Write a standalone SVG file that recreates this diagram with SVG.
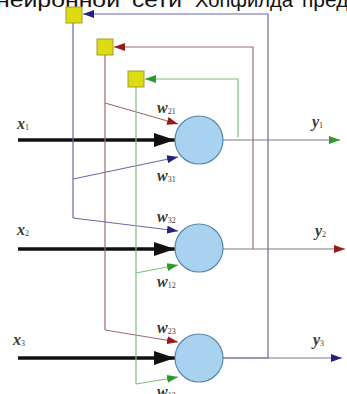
<svg xmlns="http://www.w3.org/2000/svg" width="347" height="394" viewBox="0 0 347 394">
<style>
.bl{stroke:#6a6aa6;stroke-width:1.2;fill:none}
.rd{stroke:#a06a6a;stroke-width:1.2;fill:none}
.gr{stroke:#7cbf7c;stroke-width:1.2;fill:none}
.out{stroke:#7a7a8a;stroke-width:1.2;fill:none}
.inp{stroke:#111;stroke-width:3.5;fill:none}
.sq{fill:#dcdc10;stroke:#a0a030;stroke-width:1}
.neu{fill:#a8d2f0;stroke:#5a88a8;stroke-width:1.2}
.lab{font-family:"Liberation Serif",serif;font-style:italic;font-weight:bold;font-size:16px;fill:#3a3a3a}
.sub{font-size:8px;font-style:normal;font-weight:normal}
.top{font-family:"Liberation Sans",sans-serif;font-size:21px;fill:#111}
</style>
<defs>
<marker id="aB" markerUnits="userSpaceOnUse" markerWidth="12" markerHeight="8" refX="11" refY="4" orient="auto"><path d="M0,0 L11,4 L0,8 Z" fill="#23237e"/></marker>
<marker id="aR" markerUnits="userSpaceOnUse" markerWidth="12" markerHeight="8" refX="11" refY="4" orient="auto"><path d="M0,0 L11,4 L0,8 Z" fill="#9a1818"/></marker>
<marker id="aG" markerUnits="userSpaceOnUse" markerWidth="12" markerHeight="8" refX="11" refY="4" orient="auto"><path d="M0,0 L11,4 L0,8 Z" fill="#2a9a2a"/></marker>
<marker id="aK" markerUnits="userSpaceOnUse" markerWidth="22" markerHeight="14" refX="21" refY="7" orient="auto"><path d="M0,0 L21,7 L0,14 Z" fill="#111"/></marker>
</defs>
<text class="top" y="7"><tspan x="-4" textLength="124" lengthAdjust="spacingAndGlyphs">нейронной</tspan><tspan x="132" textLength="50" lengthAdjust="spacingAndGlyphs">сети</tspan><tspan x="195" textLength="98" lengthAdjust="spacingAndGlyphs">Хопфилда</tspan><tspan x="302">пред</tspan></text>
<g id="connectors">
<path class="bl" d="M223,358 H268 V14 H83" marker-end="url(#aB)"/>
<path class="rd" d="M253,249 V47 H114" marker-end="url(#aR)"/>
<path class="gr" d="M238,137 V79 H145" marker-end="url(#aG)"/>
<path class="out" d="M223,140 H340" marker-end="url(#aG)"/>
<path class="out" d="M223,249 H345" marker-end="url(#aR)"/>
<path class="out" d="M223,358 H342" marker-end="url(#aB)"/>
<path class="inp" d="M18,140 H175" marker-end="url(#aK)"/>
<path class="inp" d="M18,249 H175" marker-end="url(#aK)"/>
<path class="inp" d="M18,358 H175" marker-end="url(#aK)"/>
<path class="bl" d="M73,23 V218"/>
<path class="bl" d="M73,179 L178,157" marker-end="url(#aB)"/>
<path class="bl" d="M73,218 L178,231" marker-end="url(#aB)"/>
<path class="rd" d="M105,55 V330"/>
<path class="rd" d="M105,103 L178,124" marker-end="url(#aR)"/>
<path class="rd" d="M105,330 L178,342" marker-end="url(#aR)"/>
<path class="gr" d="M136,87 V384"/>
<path class="gr" d="M136,273 L178,265" marker-end="url(#aG)"/>
<path class="gr" d="M136,384 L178,377" marker-end="url(#aG)"/>
</g>
<g id="delay1"><rect class="sq" x="66" y="7" width="16" height="16"/></g>
<g id="delay2"><rect class="sq" x="97" y="39" width="16" height="16"/></g>
<g id="delay3"><rect class="sq" x="128" y="71" width="16" height="16"/></g>
<g id="neuron1"><circle class="neu" cx="199" cy="140" r="24"/></g>
<g id="neuron2"><circle class="neu" cx="199" cy="248" r="24"/></g>
<g id="neuron3"><circle class="neu" cx="199" cy="358" r="24"/></g>
<g id="labels">
<text class="lab" x="17" y="129">x<tspan class="sub" dy="1">1</tspan></text>
<text class="lab" x="17" y="235">x<tspan class="sub" dy="1">2</tspan></text>
<text class="lab" x="13" y="345">x<tspan class="sub" dy="1">3</tspan></text>
<text class="lab" x="312" y="127">y<tspan class="sub" dy="1">1</tspan></text>
<text class="lab" x="315" y="236">y<tspan class="sub" dy="1">2</tspan></text>
<text class="lab" x="313" y="345">y<tspan class="sub" dy="1">3</tspan></text>
<text class="lab" x="157" y="113">w<tspan class="sub" dy="1">21</tspan></text>
<text class="lab" x="157" y="181">w<tspan class="sub" dy="1">31</tspan></text>
<text class="lab" x="157" y="222">w<tspan class="sub" dy="1">32</tspan></text>
<text class="lab" x="157" y="287">w<tspan class="sub" dy="1">12</tspan></text>
<text class="lab" x="157" y="333">w<tspan class="sub" dy="1">23</tspan></text>
<text class="lab" x="157" y="397">w<tspan class="sub" dy="1">13</tspan></text>
</g>
</svg>
